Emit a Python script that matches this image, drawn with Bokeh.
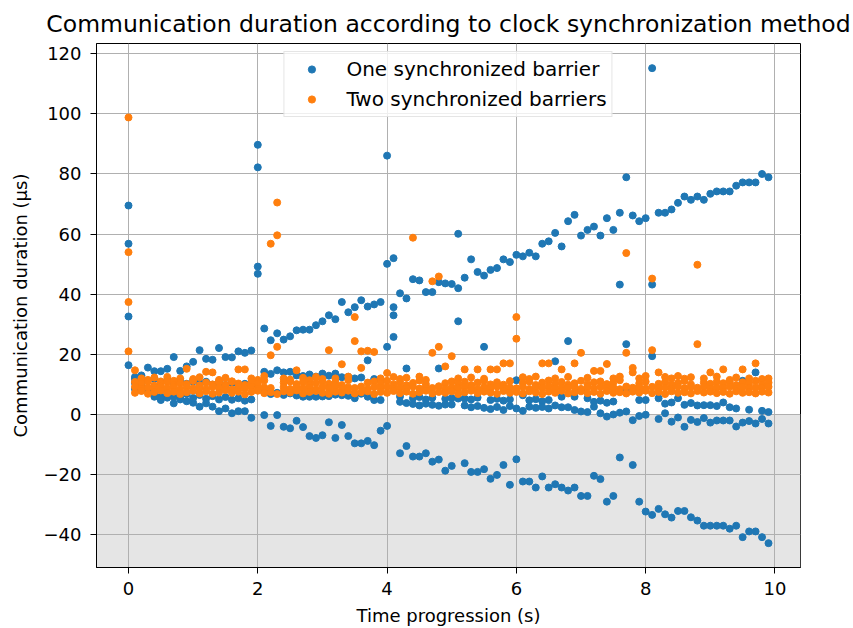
from bokeh.plotting import figure
from bokeh.models import (Range1d, BoxAnnotation, Legend, LegendItem,
                          ColumnDataSource, FixedTicker)
from bokeh.embed import file_html
from bokeh.resources import INLINE

# ---------------- data ----------------
times = [0.0, 0.1, 0.2, 0.3, 0.4, 0.5, 0.6, 0.7, 0.8, 0.9,
         1.0, 1.1, 1.2, 1.3, 1.4, 1.5, 1.6, 1.7, 1.8, 1.9,
         2.0, 2.1, 2.2, 2.3, 2.4, 2.5, 2.6, 2.7, 2.8, 2.9,
         3.0, 3.1, 3.2, 3.3, 3.4, 3.5, 3.6, 3.7, 3.8, 3.9,
         4.0, 4.1, 4.2, 4.3, 4.4, 4.5, 4.6, 4.7, 4.8, 4.9,
         5.0, 5.1, 5.2, 5.3, 5.4, 5.5, 5.6, 5.7, 5.8, 5.9,
         6.0, 6.1, 6.2, 6.3, 6.4, 6.5, 6.6, 6.7, 6.8, 6.9,
         7.0, 7.1, 7.2, 7.3, 7.4, 7.5, 7.6, 7.7, 7.8, 7.9,
         8.0, 8.1, 8.2, 8.3, 8.4, 8.5, 8.6, 8.7, 8.8, 8.9,
         9.0, 9.1, 9.2, 9.3, 9.4, 9.5, 9.6, 9.7, 9.8, 9.9]

# One synchronized barrier: four measurements per time step
blue_rise = [32.6, 12.5, 13.0, 15.6, 14.4, 14.4, 15.2, 19.1, 14.5, 16.0,
             17.5, 21.4, 18.5, 18.2, 22.1, 19.1, 19.0, 21.0, 20.5, 21.3,
             89.7, 28.6, 24.7, 27.0, 24.9, 26.0, 28.0, 28.2, 28.2, 29.7,
             31.0, 33.0, 31.7, 37.4, 34.0, 35.7, 38.0, 35.9, 36.6, 37.4,
             86.1, 35.7, 40.3, 38.6, 45.0, 44.6, 40.7, 40.7, 44.0, 43.6,
             43.4, 42.0, 45.5, 51.6, 47.4, 46.2, 48.1, 48.7, 51.6, 50.7,
             53.1, 52.6, 53.8, 52.6, 56.8, 57.6, 60.4, 55.9, 64.3, 66.4,
             59.5, 61.4, 62.5, 59.5, 65.3, 61.4, 67.1, 78.9, 66.2, 64.3,
             65.3, 115.2, 67.1, 67.1, 68.2, 70.4, 72.5, 71.4, 72.5, 71.4,
             73.4, 74.2, 74.2, 74.2, 76.1, 77.2, 77.2, 77.2, 80.0, 78.9]
blue_fall = [16.4, 10.5, 9.5, 8.1, 7.0, 4.8, 5.6, 3.7, 5.0, 4.4,
             3.9, 2.6, 3.7, 2.6, 1.1, 2.0, 0.4, 1.1, 1.1, -1.1,
             82.2, -0.2, -3.8, -0.2, -4.1, -4.6, -2.1, -4.2, -7.2, -7.8,
             -6.9, -2.6, -7.8, -3.5, -7.2, -9.6, -9.6, -8.8, -10.2, -5.4,
             -3.8, 33.0, -12.9, -10.5, -14.0, -14.0, -12.9, -15.7, -15.0, -18.7,
             -17.1, 31.0, -16.2, -19.1, -19.1, -18.2, -21.4, -20.1, -16.8, -23.4,
             -14.9, -22.3, -22.3, -24.3, -20.6, -24.3, -23.2, -24.3, -25.3, -24.3,
             -27.1, -27.1, -20.4, -21.5, -29.0, -27.1, -14.3, 23.4, -16.8, -29.0,
             -32.3, -33.4, -31.4, -33.2, -34.3, -32.1, -32.1, -34.2, -35.3, -37.0,
             -37.0, -37.0, -37.0, -38.0, -37.0, -40.8, -38.9, -38.9, -40.8, -42.8]
blue_mid_hi = [69.5, 11.8, 12.4, 11.2, 11.9, 10.8, 11.5, 10.6, 11.3, 10.2,
               11.0, 10.4, 10.9, 9.9, 10.6, 9.8, 10.5, 9.6, 10.2, 9.7,
               49.2, 14.2, 13.5, 14.7, 14.0, 14.2, 13.0, 12.8, 13.3, 12.6,
               13.6, 12.9, 13.6, 12.4, 12.5, 12.0, 12.3, 18.0, 11.8, 11.5,
               50.1, 52.0, 6.0, 15.3, 5.4, 5.8, 5.0, 5.6, 15.3, 5.2,
               5.5, 60.1, 5.3, 5.0, 5.6, 22.5, 4.8, 5.2, 4.6, 5.0,
               11.4, 6.4, 4.7, 5.1, 4.4, 4.8, 17.7, 5.9, 24.4, 5.9,
               8.1, 5.4, 4.2, 4.6, 3.9, 4.3, 43.2, 8.1, 8.1, 4.8,
               4.8, 43.2, 5.4, 3.6, 4.0, 5.4, 3.2, 3.8, 3.0, 3.1,
               3.1, 2.8, 4.0, 2.4, 2.0, 11.2, 1.6, 14.0, 1.2, 0.8]
blue_mid_lo = [56.8, 8.5, 8.0, 8.1, 5.9, 5.9, 7.2, 5.9, 5.9, 6.8,
               5.5, 6.5, 5.2, 6.1, 5.0, 5.8, 4.9, 5.4, 4.6, 5.0,
               46.8, 7.5, 6.8, 7.2, 6.5, 7.0, 6.3, 5.9, 5.9, 5.9,
               6.0, 6.1, 6.6, 6.4, 6.2, 5.4, 6.9, 5.9, 4.8, 4.8,
               22.5, 25.8, 4.2, 3.8, 3.5, 3.0, 3.6, 3.2, 2.9, 3.3,
               3.3, 5.3, 3.0, 2.4, 2.8, 2.2, 1.8, 2.5, 1.5, 2.8,
               2.0, 1.2, 2.6, 2.2, 2.5, 2.0, 3.0, 2.4, 2.4, 1.5,
               1.0, 0.8, 2.6, 0.4, -0.7, 0.0, 0.6, 1.0, -1.9, -0.5,
               -0.1, 19.4, -1.5, 0.4, -2.4, -1.0, -4.1, -1.8, -2.5, -1.2,
               -2.7, -2.0, -2.0, -2.0, -4.0, -2.7, -2.2, -3.0, -1.5, -3.0]

# Two synchronized barriers: four measurements per time step
orange_a = [98.8, 14.7, 12.0, 11.5, 12.3, 11.0, 12.5, 11.2, 12.0, 15.2,
            11.8, 12.4, 14.2, 14.0, 11.5, 12.2, 11.0, 15.0, 15.0, 12.0,
            11.5, 12.8, 56.8, 70.5, 12.0, 11.6, 14.7, 12.2, 11.4, 12.5,
            11.8, 21.4, 12.0, 16.7, 12.6, 32.4, 21.0, 21.2, 20.8, 12.0,
            13.8, 12.5, 11.8, 12.2, 58.8, 12.6, 11.5, 44.3, 45.9, 16.0,
            19.4, 12.0, 15.0, 12.3, 15.0, 11.9, 15.0, 15.0, 17.0, 17.0,
            32.4, 12.4, 11.8, 12.6, 17.0, 17.0, 12.0, 15.0, 12.5, 17.0,
            20.5, 12.2, 14.5, 14.5, 16.8, 12.0, 12.6, 53.7, 15.5, 12.0,
            12.8, 45.2, 14.0, 12.5, 12.0, 12.8, 11.9, 12.4, 49.8, 12.0,
            14.0, 12.6, 15.0, 11.5, 12.3, 15.0, 12.0, 17.0, 11.8, 12.0]
orange_b = [54.0, 10.8, 10.2, 11.0, 9.6, 10.4, 10.9, 9.8, 10.5, 10.1,
            11.2, 9.7, 10.6, 10.0, 10.8, 9.9, 11.0, 10.3, 9.8, 10.7,
            10.2, 11.3, 19.7, 59.6, 10.6, 11.0, 10.1, 10.8, 9.9, 10.5,
            11.1, 10.2, 10.7, 9.8, 11.4, 24.4, 15.5, 10.6, 11.0, 10.3,
            11.2, 10.0, 10.8, 9.7, 10.5, 11.3, 10.1, 20.5, 22.5, 10.4,
            11.0, 10.2, 10.9, 9.8, 10.6, 11.2, 10.0, 10.7, 9.9, 11.1,
            25.2, 10.5, 11.0, 9.8, 10.6, 11.3, 10.2, 10.8, 9.9, 10.4,
            11.2, 10.0, 10.7, 11.0, 10.1, 10.6, 11.4, 20.5, 14.0, 10.3,
            10.9, 21.4, 10.2, 10.8, 9.9, 10.5, 11.1, 10.0, 23.4, 10.6,
            10.2, 10.9, 10.4, 11.0, 9.8, 10.7, 10.3, 11.2, 10.0, 10.6]
orange_c = [37.4, 9.2, 8.6, 9.0, 8.3, 9.4, 8.8, 9.1, 8.4, 9.3,
            8.7, 9.0, 8.5, 9.2, 8.8, 9.5, 8.4, 9.1, 8.7, 9.3,
            8.6, 9.0, 8.8, 22.5, 9.1, 8.5, 9.3, 8.8, 9.0, 8.4,
            9.2, 8.7, 9.4, 8.6, 9.0, 8.8, 9.3, 8.5, 9.1, 8.9,
            9.2, 8.4, 9.0, 8.7, 9.3, 8.6, 9.1, 8.8, 9.4, 8.5,
            9.0, 8.7, 9.2, 8.9, 8.4, 9.1, 8.8, 9.3, 8.6, 9.0,
            8.7, 9.2, 8.5, 9.1, 8.8, 9.4, 8.6, 9.0, 8.9, 9.3,
            8.5, 9.1, 8.7, 9.2, 8.8, 9.0, 8.4, 9.3, 8.9, 9.1,
            8.6, 9.2, 8.8, 9.0, 8.5, 9.3, 8.7, 9.1, 8.9, 9.2,
            8.6, 9.0, 8.8, 9.3, 8.5, 9.1, 8.7, 9.0, 8.9, 9.2]
orange_d = [21.0, 7.2, 7.8, 6.9, 7.5, 8.0, 7.1, 7.6, 6.8, 7.4,
            7.9, 7.0, 7.7, 6.9, 7.3, 8.1, 7.2, 7.6, 6.7, 7.5,
            7.9, 7.1, 7.4, 6.8, 7.7, 7.3, 8.0, 7.0, 7.5, 7.8,
            7.2, 6.9, 7.6, 7.3, 7.9, 7.0, 7.4, 7.7, 6.8, 7.5,
            7.2, 7.8, 7.1, 7.6, 6.9, 7.4, 7.9, 7.0, 7.5, 7.2,
            7.7, 6.8, 7.4, 7.9, 7.1, 7.6, 7.3, 6.9, 7.8, 7.2,
            7.5, 7.0, 7.7, 7.3, 6.8, 7.6, 7.2, 7.9, 7.0, 7.4,
            7.7, 7.1, 7.5, 6.9, 7.8, 7.2, 7.4, 7.0, 7.6, 7.3,
            7.9, 7.1, 7.5, 6.8, 7.7, 7.2, 7.4, 7.0, 7.8, 7.3,
            7.6, 7.1, 7.5, 6.9, 7.7, 7.2, 7.4, 7.0, 7.6, 7.3]

x_ticks = [0, 2, 4, 6, 8, 10]
y_ticks = [-40, -20, 0, 20, 40, 60, 80, 100, 120]
y_tick_labels = {-40: "\u221240", -20: "\u221220"}

series_labels = ["One synchronized barrier", "Two synchronized barriers"]
colors = ["#1f77b4", "#ff7f0e"]

# ---------------- figure ----------------
FONT = "DejaVu Sans"

p = figure(width=853, height=628, output_backend="svg", toolbar_location=None,
           x_range=Range1d(-0.495, 10.395), y_range=Range1d(-50.9, 123.4),
           title="Communication duration according to clock synchronization method",
           min_border_left=96, min_border_right=53, min_border_top=43,
           min_border_bottom=61)

p.title.text_font = FONT
p.title.text_font_size = "23.5px"
p.title.text_font_style = "normal"
p.title.align = "center"
p.title.text_color = "black"
p.title.standoff = 12

p.background_fill_color = "white"
p.border_fill_color = "white"
p.outline_line_color = "black"
p.outline_line_width = 1
p.outline_line_alpha = 1

# negative region shading (below the grid)
p.add_layout(BoxAnnotation(top=0, fill_color="#e5e5e5", fill_alpha=1.0,
                           line_color=None, level="image"))

p.grid.grid_line_color = "#b0b0b0"
p.grid.grid_line_width = 1
p.grid.grid_line_alpha = 1

p.xaxis.ticker = FixedTicker(ticks=x_ticks)
p.yaxis.ticker = FixedTicker(ticks=y_ticks)
p.yaxis.major_label_overrides = y_tick_labels
p.xaxis.axis_label = "Time progression (s)"
p.yaxis.axis_label = "Communication duration (\u03bcs)"
for ax in (p.xaxis, p.yaxis):
    ax.axis_line_color = "black"
    ax.major_tick_line_color = "black"
    ax.major_tick_out = 6
    ax.major_tick_in = 0
    ax.minor_tick_line_color = None
    ax.major_label_text_font = FONT
    ax.major_label_text_font_size = "18px"
    ax.major_label_text_color = "black"
    ax.axis_label_text_font = FONT
    ax.axis_label_text_font_size = "18px"
    ax.axis_label_text_font_style = "normal"
    ax.axis_label_text_color = "black"
p.xaxis.major_label_standoff = 8
p.xaxis.axis_label_standoff = 7
p.yaxis.major_label_standoff = 9
p.yaxis.axis_label_standoff = 10

blue_src = ColumnDataSource(dict(
    x=times + times + times + times,
    y=blue_rise + blue_fall + blue_mid_hi + blue_mid_lo))
orange_src = ColumnDataSource(dict(
    x=times + times + times + times,
    y=orange_a + orange_b + orange_c + orange_d))

r_blue = p.scatter("x", "y", source=blue_src, size=7, marker="circle",
                   fill_color=colors[0], line_color=colors[0])
r_orange = p.scatter("x", "y", source=orange_src, size=7, marker="circle",
                     fill_color=colors[1], line_color=colors[1])

legend = Legend(items=[LegendItem(label=series_labels[0], renderers=[r_blue]),
                       LegendItem(label=series_labels[1], renderers=[r_orange])],
                location="top_center",
                label_text_font=FONT, label_text_font_size="20px",
                label_text_color="black",
                border_line_color="#cccccc", border_line_width=1,
                background_fill_color="white", background_fill_alpha=0.8,
                padding=5, margin=8, spacing=6,
                glyph_width=44, glyph_height=18, label_height=22,
                label_standoff=13)
p.add_layout(legend)

open("out.html", "w").write(file_html(p, INLINE))
